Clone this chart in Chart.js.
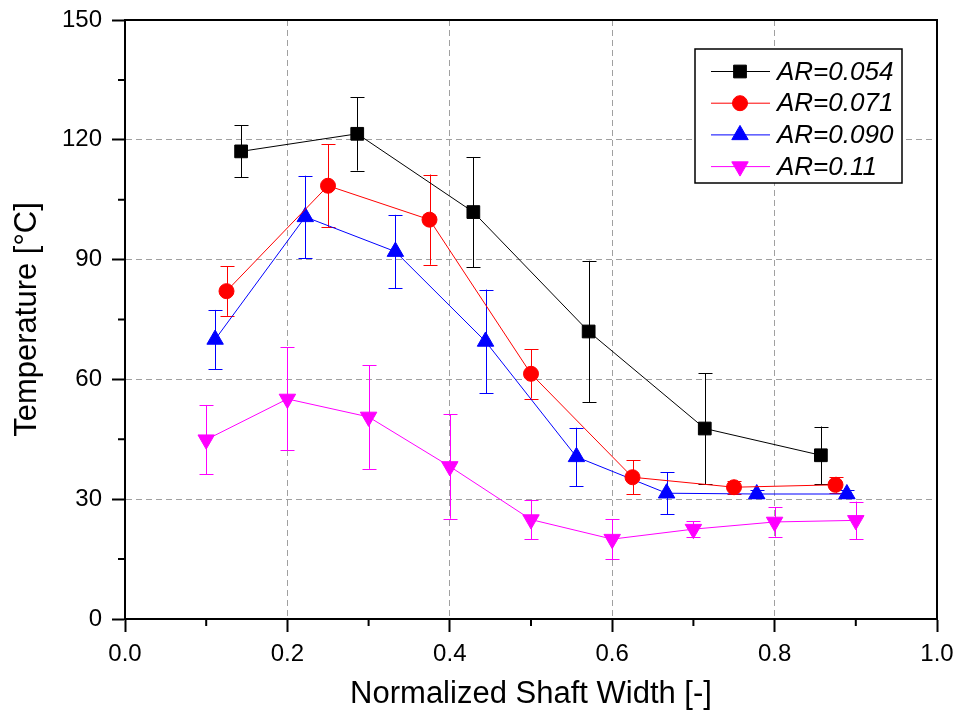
<!DOCTYPE html>
<html>
<head>
<meta charset="utf-8">
<script src="https://cdn.jsdelivr.net/npm/chart.js@4.4.0/dist/chart.umd.min.js"></script>
<style>
  html, body { margin: 0; padding: 0; background: #fff; }
</style>
</head>
<body>
<canvas id="chartContainer" width="958" height="718"></canvas>
<script>
// Values
const seriesLabels = ['AR=0.054', 'AR=0.071', 'AR=0.090', 'AR=0.11'];

const xAR054 = [0.143, 0.286, 0.429, 0.571, 0.714, 0.857];
const yAR054 = [117.1, 121.5, 101.9, 72.0, 47.7, 41.0];
const eAR054 = [6.5, 9.2, 13.8, 17.7, 13.9, 7.2];

const xAR071 = [0.125, 0.25, 0.375, 0.5, 0.625, 0.75, 0.875];
const yAR071 = [82.1, 108.5, 100.0, 61.4, 35.5, 33.0, 33.6];
const eAR071 = [6.2, 10.4, 11.3, 6.2, 4.3, 1.6, 2.0];

const xAR090 = [0.111, 0.222, 0.333, 0.444, 0.556, 0.667, 0.778, 0.889];
const yAR090 = [70.0, 100.7, 92.0, 69.5, 40.6, 31.5, 31.3, 31.3];
const eAR090 = [7.4, 10.3, 9.2, 13.0, 7.3, 5.3, 1.0, 1.0];

const xAR11 = [0.1, 0.2, 0.3, 0.4, 0.5, 0.6, 0.7, 0.8, 0.9];
const yAR11 = [44.9, 55.1, 50.6, 38.2, 24.9, 20.0, 22.5, 24.3, 24.7];
const eAR11 = [8.7, 12.9, 13.0, 13.1, 4.9, 5.0, 2.0, 3.7, 4.7];

// axis ticks
const xMin = 0, xMax = 1, xStep = 0.2;
const yMin = 0, yMax = 150, yStep = 30;
const xMinorTicks = [0.1, 0.3, 0.5, 0.7, 0.9];
const yMinorTicks = [15, 45, 75, 105, 135];

const FONT = '"Liberation Sans", Arial, sans-serif';

function toPoints(xs, ys) {
    return xs.map((x, i) => ({ x: x, y: ys[i] }));
}

function makeDataset(label, xs, ys, errs, color, style, radius, rotation) {
    return {
        label: label,
        data: toPoints(xs, ys),
        errors: errs,
        showLine: true,
        borderColor: color,
        backgroundColor: color,
        borderWidth: 1,
        pointStyle: style,
        pointRadius: radius,
        pointHoverRadius: radius,
        pointRotation: rotation,
        pointBorderWidth: 1,
        pointBackgroundColor: color,
        pointBorderColor: color,
        tension: 0
    };
}

// vertical error bars with caps, drawn under the markers
const errorBars = {
    id: 'errorBars',
    beforeDatasetsDraw(chart) {
        const ctx = chart.ctx;
        const xs = chart.scales.x, ys = chart.scales.y;
        const cap = 7;
        chart.data.datasets.forEach(ds => {
            ctx.save();
            ctx.strokeStyle = ds.borderColor;
            ctx.lineWidth = 1;
            ds.data.forEach((p, i) => {
                const e = ds.errors[i];
                const px = Math.round(xs.getPixelForValue(p.x)) + 0.5;
                const top = ys.getPixelForValue(p.y + e);
                const bot = ys.getPixelForValue(p.y - e);
                ctx.beginPath();
                ctx.moveTo(px, top);
                ctx.lineTo(px, bot);
                ctx.moveTo(px - cap, Math.round(top) + 0.5);
                ctx.lineTo(px + cap, Math.round(top) + 0.5);
                ctx.moveTo(px - cap, Math.round(bot) + 0.5);
                ctx.lineTo(px + cap, Math.round(bot) + 0.5);
                ctx.stroke();
            });
            ctx.restore();
        });
    }
};

// minor ticks and the closing frame on top and right
const frame = {
    id: 'frame',
    afterDraw(chart) {
        const ctx = chart.ctx;
        const a = chart.chartArea;
        const xs = chart.scales.x, ys = chart.scales.y;
        ctx.save();
        ctx.strokeStyle = '#000';
        ctx.lineWidth = 2;
        ctx.beginPath();
        xMinorTicks.forEach(v => {
            const px = xs.getPixelForValue(v);
            ctx.moveTo(px, a.bottom);
            ctx.lineTo(px, a.bottom + 7);
        });
        yMinorTicks.forEach(v => {
            const py = ys.getPixelForValue(v);
            ctx.moveTo(a.left, py);
            ctx.lineTo(a.left - 7, py);
        });
        ctx.stroke();
        ctx.beginPath();
        ctx.moveTo(a.left, a.top);
        ctx.lineTo(a.right, a.top);
        ctx.lineTo(a.right, a.bottom);
        ctx.stroke();
        ctx.restore();
    }
};

// boxed legend with line + marker samples
const boxLegend = {
    id: 'boxLegend',
    afterDraw(chart) {
        const ctx = chart.ctx;
        const left = 695, top = 49, width = 207, height = 134;
        const rowH = 31.7, firstRow = 71.5;
        ctx.save();
        ctx.fillStyle = '#fff';
        ctx.fillRect(left, top, width, height);
        ctx.strokeStyle = '#000';
        ctx.lineWidth = 1.5;
        ctx.strokeRect(left, top, width, height);
        chart.data.datasets.forEach((ds, i) => {
            const y = firstRow + i * rowH;
            ctx.strokeStyle = ds.borderColor;
            ctx.lineWidth = 1;
            ctx.beginPath();
            ctx.moveTo(711, y);
            ctx.lineTo(770, y);
            ctx.stroke();
            ctx.fillStyle = ds.pointBackgroundColor;
            ctx.strokeStyle = ds.pointBorderColor;
            Chart.helpers.drawPoint(ctx, {
                pointStyle: ds.pointStyle,
                radius: ds.pointRadius,
                rotation: ds.pointRotation,
                borderWidth: 1
            }, 740, y);
            ctx.fillStyle = '#000';
            ctx.font = 'italic 26px ' + FONT;
            ctx.textAlign = 'left';
            ctx.textBaseline = 'middle';
            ctx.fillText(ds.label, 777, y + 1);
        });
        ctx.restore();
    }
};

function fixX(s) {
    s.height = 99;
    s.paddingLeft = 0;
    s.paddingRight = 0;
}

function fixY(s) {
    s.width = 125;
    s.paddingTop = 0;
    s.paddingBottom = 0;
}

const ctx = document.getElementById('chartContainer');
window.myChart = new Chart(ctx, {
    type: 'scatter',
    data: {
        datasets: [
            makeDataset(seriesLabels[0], xAR054, yAR054, eAR054, '#000000', 'rect', 9, 0),
            makeDataset(seriesLabels[1], xAR071, yAR071, eAR071, '#ff0000', 'circle', 7.5, 0),
            makeDataset(seriesLabels[2], xAR090, yAR090, eAR090, '#0000ff', 'triangle', 9.5, 0),
            makeDataset(seriesLabels[3], xAR11, yAR11, eAR11, '#ff00ff', 'triangle', 9.5, 180)
        ]
    },
    options: {
        responsive: false,
        animation: false,
        devicePixelRatio: 1,
        layout: { padding: { left: 0, top: 20, right: 21, bottom: 0 } },
        plugins: {
            legend: { display: false },
            tooltip: { enabled: false }
        },
        scales: {
            x: {
                type: 'linear',
                position: 'bottom',
                min: xMin,
                max: xMax,
                afterFit: fixX,
                ticks: {
                    stepSize: xStep,
                    color: '#000',
                    padding: 8,
                    font: { family: FONT, size: 24 },
                    callback: v => v.toFixed(1)
                },
                grid: {
                    color: '#a0a0a0',
                    lineWidth: 1,
                    tickColor: '#000',
                    tickLength: 13,
                    tickWidth: 2
                },
                border: { display: true, color: '#000', width: 2, dash: [6, 4] },
                title: {
                    display: true,
                    text: 'Normalized Shaft Width [-]',
                    color: '#000',
                    font: { family: FONT, size: 31 },
                    padding: { top: 5, bottom: 5 }
                }
            },
            y: {
                type: 'linear',
                min: yMin,
                max: yMax,
                afterFit: fixY,
                ticks: {
                    stepSize: yStep,
                    color: '#000',
                    padding: 10,
                    font: { family: FONT, size: 24 }
                },
                grid: {
                    color: '#a0a0a0',
                    lineWidth: 1,
                    tickColor: '#000',
                    tickLength: 13,
                    tickWidth: 2
                },
                border: { display: true, color: '#000', width: 2, dash: [6, 4] },
                title: {
                    display: true,
                    text: 'Temperature [°C]',
                    color: '#000',
                    font: { family: FONT, size: 31 },
                    padding: { top: 9, bottom: 9 }
                }
            }
        }
    },
    plugins: [errorBars, frame, boxLegend]
});
</script>
</body>
</html>
